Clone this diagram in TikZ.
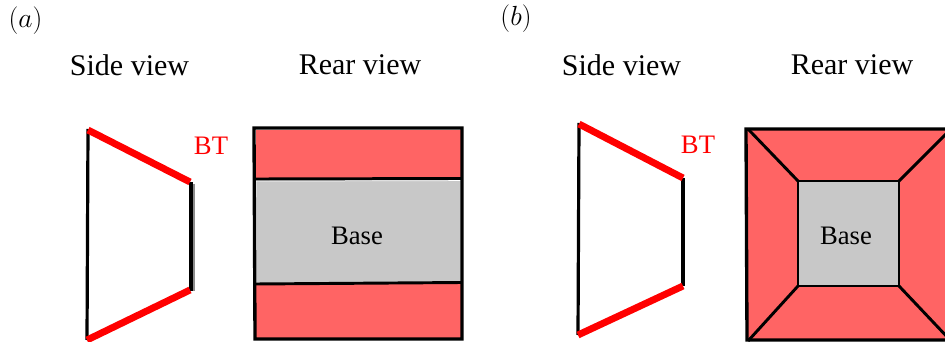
\documentclass[tikz,border=0pt]{standalone}
\usepackage{fontspec}
\setmainfont{Liberation Serif}
\definecolor{btred}{RGB}{255,0,0}
\definecolor{pad}{RGB}{255,100,100}
\definecolor{basegray}{RGB}{200,200,200}
\tikzset{
  px/.style={x=0.75pt,y=-0.75pt},
  thinline/.style={draw=black,line width=2.2pt},
  outerline/.style={draw=black,line width=2.5pt},
  sideline/.style={draw=black,line width=2.4pt},
  btline/.style={draw=btred,line width=5.2pt},
  halo/.style={draw=white,line width=0.7pt},
  lab/.style={inner sep=0pt,font=\fontsize{22.5}{26}\selectfont},
  small/.style={inner sep=0pt,font=\fontsize{20}{24}\selectfont},
}
\begin{document}
\begin{tikzpicture}[px]
\useasboundingbox (0,0) rectangle (945,342);
\node[lab] (la) at (25.5,20.5) {$(a)$};
\node[lab] (lb) at (516,18.5) {$(b)$};
\node[lab] (sa) at (129.5,65) {Side view};
\node[lab] (ra) at (360,65) {Rear view};
\node[lab] (sb) at (621.5,65) {Side view};
\node[lab] (rb) at (852,65) {Rear view};
% (a) side
\draw[sideline] (88,129) -- (87,340);
\draw[draw=black!45,line width=1.5pt] (194,184) -- (194,291);
\draw[sideline] (191,182) -- (191,291);
\draw[btline] (88,130) -- (190,182);
\draw[btline] (190,290) -- (87,340);
\node[small,text=btred] (bta) at (211,146) {BT};
% (a) rear
\fill[pad] (256,130) rectangle (461,179);
\fill[pad] (256,284) rectangle (461,338);
\fill[basegray] (256,180) rectangle (461,283);
\draw[halo] (256,181) -- (461,180.5) -- (461,282) -- (256,284) -- cycle;
\draw[thinline] (255,179) -- (462,178.5);
\draw[thinline] (255,284) -- (462,282.5);
\draw[outerline] (254,128) -- (462,128) -- (462,339) -- (255,339) -- cycle;
\node[small] (basea) at (357,235.5) {Base};
% (b) side
\draw[sideline] (579,123) -- (578,335);
\draw[sideline] (683,178) -- (683,286);
\draw[btline] (579,124) -- (683,178);
\draw[btline] (683,286) -- (578,335);
\node[small,text=btred] (btb) at (698,145) {BT};
% (b) rear
\fill[pad] (747,129) rectangle (951,341);
\fill[basegray] (798,181) rectangle (899,286);
\draw[thinline] (748,129) -- (798,181);
\draw[thinline] (951,129) -- (899,181);
\draw[thinline] (748,341) -- (798,286);
\draw[thinline] (951,341) -- (899,286);
\draw[thinline] (798,181) rectangle (899,286);
\draw[outerline] (746,129) -- (951,129) -- (951,340) -- (747,340) -- cycle;
\node[small] (baseb) at (846,235.5) {Base};
\end{tikzpicture}
\end{document}
